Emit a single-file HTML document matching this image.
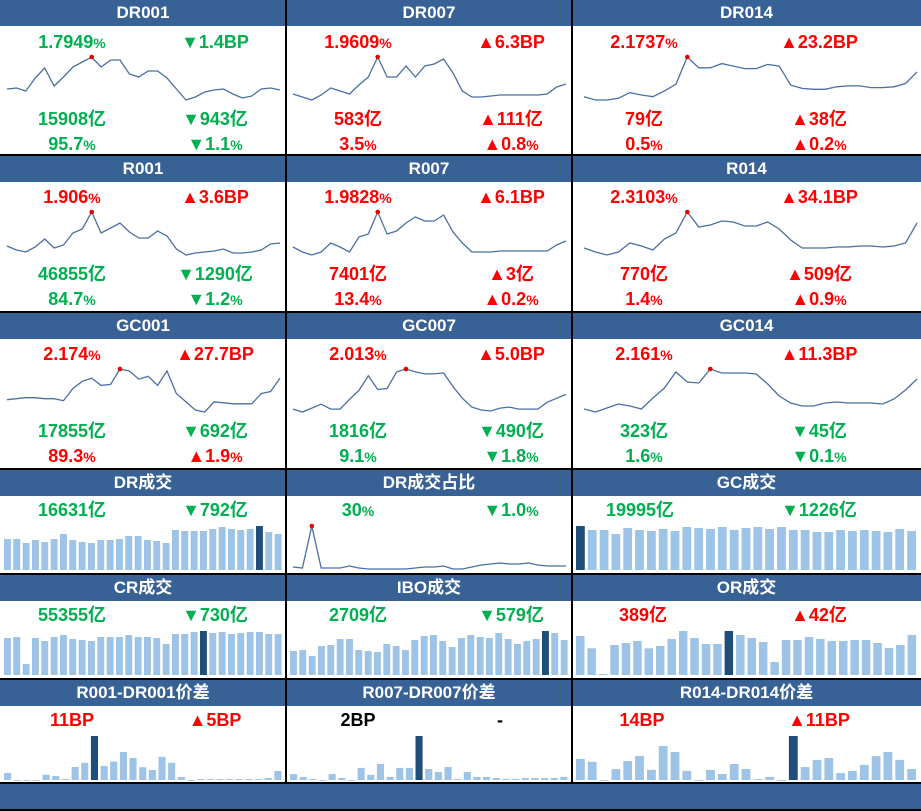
<!DOCTYPE html>
<html><head><meta charset="utf-8">
<style>
body{margin:0;background:#fff;}
#root{position:relative;width:921px;height:811px;overflow:hidden;background:#fff;font-family:"Liberation Sans","Noto Sans CJK SC",sans-serif;font-weight:bold;}
.hdr{position:absolute;height:26px;background:#386195;color:#fff;font-size:17px;line-height:26px;text-align:center;}
.lbl{position:absolute;width:160px;margin-left:-80px;text-align:center;font-size:18px;line-height:20px;white-space:nowrap;}
.lbl .p{font-size:14px;}
.g{color:#00b050}.r{color:#ff0000}.k{color:#000}
.hl{position:absolute;left:0;width:921px;height:2px;background:#000;}
.vl{position:absolute;top:0;width:2px;height:783px;background:#000;}
svg{position:absolute;}
</style></head><body>
<div id="root">

<!-- Row 0 -->
<div class="hdr" style="left:0;top:0;width:286px">DR001</div>
<div class="hdr" style="left:286px;top:0;width:286px">DR007</div>
<div class="hdr" style="left:572px;top:0;width:349px">DR014</div>
<div class="lbl g" style="left:72px;top:32px">1.7949<span class="p">%</span></div>
<div class="lbl g" style="left:215px;top:32px">▼1.4BP</div>
<div class="lbl g" style="left:72px;top:109px">15908亿</div>
<div class="lbl g" style="left:215px;top:109px">▼943亿</div>
<div class="lbl g" style="left:72px;top:134px">95.7<span class="p">%</span></div>
<div class="lbl g" style="left:215px;top:134px">▼1.1<span class="p">%</span></div>
<div class="lbl r" style="left:358px;top:32px">1.9609<span class="p">%</span></div>
<div class="lbl r" style="left:511px;top:32px">▲6.3BP</div>
<div class="lbl r" style="left:358px;top:109px">583亿</div>
<div class="lbl r" style="left:511px;top:109px">▲111亿</div>
<div class="lbl r" style="left:358px;top:134px">3.5<span class="p">%</span></div>
<div class="lbl r" style="left:511px;top:134px">▲0.8<span class="p">%</span></div>
<div class="lbl r" style="left:644px;top:32px">2.1737<span class="p">%</span></div>
<div class="lbl r" style="left:819px;top:32px">▲23.2BP</div>
<div class="lbl r" style="left:644px;top:109px">79亿</div>
<div class="lbl r" style="left:819px;top:109px">▲38亿</div>
<div class="lbl r" style="left:644px;top:134px">0.5<span class="p">%</span></div>
<div class="lbl r" style="left:819px;top:134px">▲0.2<span class="p">%</span></div>

<!-- Row 1 -->
<div class="hdr" style="left:0;top:156px;width:286px">R001</div>
<div class="hdr" style="left:286px;top:156px;width:286px">R007</div>
<div class="hdr" style="left:572px;top:156px;width:349px">R014</div>
<div class="lbl r" style="left:72px;top:187px">1.906<span class="p">%</span></div>
<div class="lbl r" style="left:215px;top:187px">▲3.6BP</div>
<div class="lbl g" style="left:72px;top:264px">46855亿</div>
<div class="lbl g" style="left:215px;top:264px">▼1290亿</div>
<div class="lbl g" style="left:72px;top:289px">84.7<span class="p">%</span></div>
<div class="lbl g" style="left:215px;top:289px">▼1.2<span class="p">%</span></div>
<div class="lbl r" style="left:358px;top:187px">1.9828<span class="p">%</span></div>
<div class="lbl r" style="left:511px;top:187px">▲6.1BP</div>
<div class="lbl r" style="left:358px;top:264px">7401亿</div>
<div class="lbl r" style="left:511px;top:264px">▲3亿</div>
<div class="lbl r" style="left:358px;top:289px">13.4<span class="p">%</span></div>
<div class="lbl r" style="left:511px;top:289px">▲0.2<span class="p">%</span></div>
<div class="lbl r" style="left:644px;top:187px">2.3103<span class="p">%</span></div>
<div class="lbl r" style="left:819px;top:187px">▲34.1BP</div>
<div class="lbl r" style="left:644px;top:264px">770亿</div>
<div class="lbl r" style="left:819px;top:264px">▲509亿</div>
<div class="lbl r" style="left:644px;top:289px">1.4<span class="p">%</span></div>
<div class="lbl r" style="left:819px;top:289px">▲0.9<span class="p">%</span></div>

<!-- Row 2 -->
<div class="hdr" style="left:0;top:313px;width:286px">GC001</div>
<div class="hdr" style="left:286px;top:313px;width:286px">GC007</div>
<div class="hdr" style="left:572px;top:313px;width:349px">GC014</div>
<div class="lbl r" style="left:72px;top:344px">2.174<span class="p">%</span></div>
<div class="lbl r" style="left:215px;top:344px">▲27.7BP</div>
<div class="lbl g" style="left:72px;top:421px">17855亿</div>
<div class="lbl g" style="left:215px;top:421px">▼692亿</div>
<div class="lbl r" style="left:72px;top:446px">89.3<span class="p">%</span></div>
<div class="lbl r" style="left:215px;top:446px">▲1.9<span class="p">%</span></div>
<div class="lbl r" style="left:358px;top:344px">2.013<span class="p">%</span></div>
<div class="lbl r" style="left:511px;top:344px">▲5.0BP</div>
<div class="lbl g" style="left:358px;top:421px">1816亿</div>
<div class="lbl g" style="left:511px;top:421px">▼490亿</div>
<div class="lbl g" style="left:358px;top:446px">9.1<span class="p">%</span></div>
<div class="lbl g" style="left:511px;top:446px">▼1.8<span class="p">%</span></div>
<div class="lbl r" style="left:644px;top:344px">2.161<span class="p">%</span></div>
<div class="lbl r" style="left:819px;top:344px">▲11.3BP</div>
<div class="lbl g" style="left:644px;top:421px">323亿</div>
<div class="lbl g" style="left:819px;top:421px">▼45亿</div>
<div class="lbl g" style="left:644px;top:446px">1.6<span class="p">%</span></div>
<div class="lbl g" style="left:819px;top:446px">▼0.1<span class="p">%</span></div>

<!-- Row 3 -->
<div class="hdr" style="left:0;top:470px;width:286px">DR成交</div>
<div class="hdr" style="left:286px;top:470px;width:286px">DR成交占比</div>
<div class="hdr" style="left:572px;top:470px;width:349px">GC成交</div>
<div class="lbl g" style="left:72px;top:500px">16631亿</div>
<div class="lbl g" style="left:215px;top:500px">▼792亿</div>
<div class="lbl g" style="left:358px;top:500px">30<span class="p">%</span></div>
<div class="lbl g" style="left:511px;top:500px">▼1.0<span class="p">%</span></div>
<div class="lbl g" style="left:640px;top:500px">19995亿</div>
<div class="lbl g" style="left:819px;top:500px">▼1226亿</div>

<!-- Row 4 -->
<div class="hdr" style="left:0;top:575px;width:286px">CR成交</div>
<div class="hdr" style="left:286px;top:575px;width:286px">IBO成交</div>
<div class="hdr" style="left:572px;top:575px;width:349px">OR成交</div>
<div class="lbl g" style="left:72px;top:605px">55355亿</div>
<div class="lbl g" style="left:215px;top:605px">▼730亿</div>
<div class="lbl g" style="left:358px;top:605px">2709亿</div>
<div class="lbl g" style="left:511px;top:605px">▼579亿</div>
<div class="lbl r" style="left:643px;top:605px">389亿</div>
<div class="lbl r" style="left:819px;top:605px">▲42亿</div>

<!-- Row 5 -->
<div class="hdr" style="left:0;top:680px;width:286px">R001-DR001价差</div>
<div class="hdr" style="left:286px;top:680px;width:286px">R007-DR007价差</div>
<div class="hdr" style="left:572px;top:680px;width:349px">R014-DR014价差</div>
<div class="lbl r" style="left:72px;top:710px">11BP</div>
<div class="lbl r" style="left:215px;top:710px">▲5BP</div>
<div class="lbl k" style="left:358px;top:710px">2BP</div>
<div class="lbl k" style="left:500px;top:710px">-</div>
<div class="lbl r" style="left:642px;top:710px">14BP</div>
<div class="lbl r" style="left:819px;top:710px">▲11BP</div>

<div class="hdr" style="left:0;top:784px;width:921px;height:25px"></div>

<div class="hl" style="top:154px"></div>
<div class="hl" style="top:311px"></div>
<div class="hl" style="top:468px"></div>
<div class="hl" style="top:573px"></div>
<div class="hl" style="top:678px"></div>
<div class="hl" style="top:782px"></div>
<div class="hl" style="top:809px"></div>
<div class="vl" style="left:285px"></div>
<div class="vl" style="left:571px"></div>
</div>

<script>
// Line series (rate, bp above period low)
const dr001Vals=[11,12,9,22,32,14,23,33,38,43,33,40,40,26,23,29,29,22,11,0,3,8,10,11,6,2,4,11,12,10];
const dr007Vals=[6,3,0,5,12,9,6,15,23,43,23,23,34,23,34,36,41,27,9,3,3,4,5,5,5,5,5,6,13,16];
const dr014Vals=[4,0,0,2,9,6,4,11,19,52,39,39,44,41,38,38,43,41,18,14,13,13,16,17,17,15,15,16,20,34];
const r001Vals=[9,5,3,8,16,7,10,22,26,43,22,27,32,23,17,17,24,19,6,0,2,3,4,6,2,2,3,5,11,12];
const r007Vals=[8,3,0,3,12,8,3,18,21,43,21,24,32,38,34,34,40,23,12,3,3,3,4,4,4,4,4,4,10,14];
const r014Vals=[7,3,0,3,12,9,5,16,22,43,28,30,34,33,29,29,33,26,15,7,7,7,8,8,9,9,8,9,12,32];
const gc001Vals=[12,13,14,14,13,13,11,23,30,33,26,27,42,40,32,35,26,40,18,10,2,0,10,9,8,8,8,18,20,33];
const gc007Vals=[3,0,4,8,3,3,13,22,37,23,24,41,44,41,39,39,40,26,14,5,2,1,4,5,3,3,3,10,14,18];
const gc014Vals=[3,0,4,8,6,3,14,24,40,30,29,43,39,39,39,38,28,16,9,6,6,9,10,9,9,9,8,13,22,33];
const drShareVals=[2,1,43,1,1,1,3,1,0,0,0,0,0,1,2,2,3,0,0,2,4,5,6,5,5,6,4,3,3,3];
// Bar series
const drVolVals=[11718,11718,10206,11340,10584,11718,13608,11340,10584,10206,11340,11340,11718,12852,12852,11340,10962,10206,15120,14742,14742,14742,15498,16254,15498,15120,15498,16631,14364,13608];
const drVolCur=27;
const gcVolVals=[19995,18180,18180,16360,19090,18180,17720,18630,17720,19540,19090,18630,19540,18180,19090,19540,18630,19540,18180,18180,17270,17270,18180,17720,18180,17720,17270,18630,17720];
const gcVolCur=0;
const crVolVals=[46540,47800,13840,46540,42770,47800,50320,45280,44030,42770,47800,47800,47800,50320,47800,47800,46540,39000,51570,51570,54090,55355,52830,54090,51570,52830,54090,54090,51570,51570];
const crVolCur=21;
const iboVolVals=[1478,1539,1170,1786,1847,2216,2216,1539,1478,1416,1909,1786,1539,2155,2401,2463,2093,1724,2278,2463,2340,2278,2586,2216,1909,2093,2216,2709,2586,2155];
const iboVolCur=27;
const orVolVals=[345,236,9,265,283,301,236,256,318,389,327,274,274,389,354,327,292,115,309,309,336,318,301,301,309,309,283,239,265,354];
const orVolCur=13;
const r001SprVals=[1.75,0,0,0,1.3,1,0.25,3.25,4.3,11,3.5,4.6,7,5.5,3.2,2.5,5.8,4.3,0.75,0,0.25,0.25,0.25,0.25,0.25,0.25,0.25,0.5,2.25];
const r001SprCur=9;
const r007SprVals=[0.27,0.14,0.05,0,0.27,0.09,0,0.55,0.23,0.73,0.14,0.55,0.55,2,0.5,0.36,0.59,0.05,0.36,0.14,0.14,0.09,0.05,0.05,0.09,0.09,0.09,0.09,0.14];
const r007SprCur=13;
const r014SprVals=[6.7,5.8,0,3.5,6,7.6,3.2,10.8,8.9,2.9,0,3.2,1.9,5.1,3.5,0.3,1,0,14,4.1,6.4,7,2.2,2.9,4.8,7.6,8.9,6.4,3.5];
const r014SprCur=18;

const NS='http://www.w3.org/2000/svg';
const root=document.getElementById('root');
function mkSvg(x,y,w,h,name){
  const s=document.createElementNS(NS,'svg');
  s.setAttribute('width',w);s.setAttribute('height',h);
  s.style.left=x+'px';s.style.top=y+'px';
  
  
  root.appendChild(s);return s;
}
function lineChart(vals,px,ptop,w,name,yTop,yBot){
  const s=mkSvg(px,ptop,w,110,name);
  const padL=w>300?12:7,padR=w>300?4:6;
  const mn=Math.min(...vals),mx=Math.max(...vals);
  const xs=i=>padL+i*(w-padL-padR)/(vals.length-1);
  const ys=v=>yBot-(v-mn)/(mx-mn||1)*(yBot-yTop);
  let d='';vals.forEach((v,i)=>{d+=(i?'L':'M')+xs(i).toFixed(1)+' '+ys(v).toFixed(1);});
  const p=document.createElementNS(NS,'path');
  p.setAttribute('d',d);p.setAttribute('fill','none');p.setAttribute('stroke','#4a6fa3');p.setAttribute('stroke-width','1.3');
  
  
  s.appendChild(p);
  const mi=vals.indexOf(mx);
  const c=document.createElementNS(NS,'circle');
  c.setAttribute('cx',xs(mi));c.setAttribute('cy',ys(mx));c.setAttribute('r',2.3);c.setAttribute('fill','#e00000');
  
  
  s.appendChild(c);
}
function barChart(vals,cur,px,ptop,w,name){
  const s=mkSvg(px,ptop,w,110,name);
  const start=4,end=w-2,sp=(end-start)/vals.length,bw=sp*0.74;
  const mx=Math.max(...vals);
  const base=44,hMax=44;
  vals.forEach((v,i)=>{
    const h=Math.max(0,v)/mx*hMax;
    const r=document.createElementNS(NS,'rect');
    r.setAttribute('x',(start+i*sp).toFixed(1));r.setAttribute('y',(base-h).toFixed(1));
    r.setAttribute('width',bw.toFixed(1));r.setAttribute('height',Math.max(h,0.8).toFixed(1));
    r.setAttribute('fill',i===cur?'#1f4e79':'#9dc3e6');
    
    
    s.appendChild(r);
  });
}
lineChart(dr001Vals,0,0,286,'dr001-sparkline',57,100);
lineChart(dr007Vals,286,0,286,'dr007-sparkline',57,100);
lineChart(dr014Vals,572,0,349,'dr014-sparkline',57,100);
lineChart(r001Vals,0,155,286,'r001-sparkline',57,100);
lineChart(r007Vals,286,155,286,'r007-sparkline',57,100);
lineChart(r014Vals,572,155,349,'r014-sparkline',57,100);
lineChart(gc001Vals,0,312,286,'gc001-sparkline',57,100);
lineChart(gc007Vals,286,312,286,'gc007-sparkline',57,100);
lineChart(gc014Vals,572,312,349,'gc014-sparkline',57,100);
lineChart(drShareVals,286,469,286,'dr-share-sparkline',57,100);
barChart(drVolVals,drVolCur,0,526,286,'dr-volume-chart');
barChart(gcVolVals,gcVolCur,572,526,349,'gc-volume-chart');
barChart(crVolVals,crVolCur,0,631,286,'cr-volume-chart');
barChart(iboVolVals,iboVolCur,286,631,286,'ibo-volume-chart');
barChart(orVolVals,orVolCur,572,631,349,'or-volume-chart');
barChart(r001SprVals,r001SprCur,0,736,286,'r001-spread-chart');
barChart(r007SprVals,r007SprCur,286,736,286,'r007-spread-chart');
barChart(r014SprVals,r014SprCur,572,736,349,'r014-spread-chart');
</script>
</body></html>
